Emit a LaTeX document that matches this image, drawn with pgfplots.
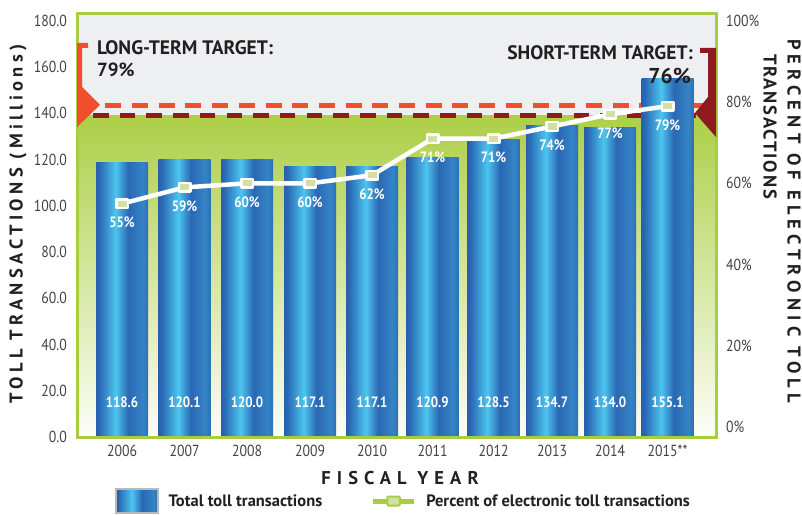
\documentclass[border=0pt]{standalone}
\usepackage{fontspec}
\setmainfont{PT Sans}
\newfontfamily\condfont[FakeStretch=0.86]{PT Sans}
\usepackage{pgfplots}
\pgfplotsset{compat=1.18}
\definecolor{dblue}{HTML}{1A3282}
\definecolor{mblue}{HTML}{2A68B4}
\definecolor{lblue}{HTML}{4DC5EF}
\definecolor{gframe}{HTML}{A8CD3E}
\definecolor{gtop}{HTML}{ADCF47}
\definecolor{bggray}{HTML}{EEEFF1}
\definecolor{orng}{HTML}{F04E2F}
\definecolor{dred}{HTML}{8C1A1E}
\definecolor{mfill}{HTML}{D2DFA6}
\definecolor{txt}{HTML}{231F20}
\pgfdeclarehorizontalshading{barshade}{100bp}{color(0bp)=(dblue); color(10bp)=(dblue!85!mblue); color(28bp)=(mblue); color(44bp)=(lblue); color(56bp)=(mblue); color(70bp)=(mblue!70!lblue); color(86bp)=(dblue!75!mblue); color(100bp)=(dblue)}
\newcommand\tickfont{\condfont\fontsize{16}{16}\selectfont}
\pgfplotsset{onebar/.style={ybar, bar width=52, bar shift=0pt, shade, shading=barshade, draw=none, forget plot}}
\begin{document}
\begin{tikzpicture}[x=1pt,y=1pt]
\useasboundingbox (0,0) rectangle (802,514);
\begin{axis}[
  at={(77pt,77pt)}, anchor=south west,
  width=639pt, height=423pt, scale only axis,
  xmin=77, xmax=716, ymin=0, ymax=183,
  clip=false,
  axis line style={draw=none},
  major tick length=0pt, tick style={draw=none},
  axis background/.style={fill=bggray},
  xtick={122,184.5,247,310,372,432.5,493.5,552,610,667.5},
  xticklabels={2006,2007,2008,2009,2010,2011,2012,2013,2014,2015**},
  xticklabel style={font=\tickfont, text=txt!85, inner sep=0pt, anchor=center, yshift=-14pt},
  ytick={0,20,...,180},
  yticklabels={0.0,20.0,40.0,60.0,80.0,100.0,120.0,140.0,160.0,180.0},
  yticklabel style={font=\tickfont, text=txt!85, inner sep=0pt, anchor=east, xshift=-10pt},
]
\fill[top color=gtop, bottom color=gtop!4!white] (axis cs:77,0) rectangle (axis cs:716,139);
\draw[dred, line width=5pt, dash pattern=on 15.5pt off 11.2pt] (axis cs:93,139) -- (axis cs:716,139);
\draw[orng, line width=5pt, dash pattern=on 16pt off 10.7pt] (axis cs:105.3,143.4) -- (axis cs:716,143.4);
\addplot[onebar] coordinates {(122,118.6)};
\addplot[onebar] coordinates {(184.5,120.1)};
\addplot[onebar] coordinates {(247,120.0)};
\addplot[onebar] coordinates {(310,117.1)};
\addplot[onebar] coordinates {(372,117.1)};
\addplot[onebar] coordinates {(432.5,120.9)};
\addplot[onebar] coordinates {(493.5,128.5)};
\addplot[onebar] coordinates {(552,134.7)};
\addplot[onebar] coordinates {(610,134.0)};
\addplot[onebar] coordinates {(667.5,155.1)};
\addplot[draw=none, forget plot, nodes near coords, point meta=explicit symbolic,
  every node near coord/.append style={anchor=center, inner sep=0pt, text=white, font=\condfont\bfseries\fontsize{15}{15}\selectfont}]
  coordinates {(122,15.1)[118.6] (184.5,15.1)[120.1] (247,15.1)[120.0] (310,15.1)[117.1] (372,15.1)[117.1] (432.5,15.1)[120.9] (493.5,15.1)[128.5] (552,15.1)[134.7] (610,15.1)[134.0] (667.5,15.1)[155.1]};
\draw[gframe, line width=3pt] (rel axis cs:0,0) rectangle (rel axis cs:1,1);
\end{axis}
\begin{axis}[
  at={(77pt,77pt)}, anchor=south west,
  width=639pt, height=423pt, scale only axis,
  xmin=77, xmax=716, ymin=-2.46, ymax=101.7,
  clip=false,
  hide x axis, axis y line*=right,
  axis line style={draw=none},
  major tick length=0pt, tick style={draw=none},
  ytick={0,20,...,100},
  yticklabels={0\%,20\%,40\%,60\%,80\%,100\%},
  yticklabel style={font=\tickfont, text=txt!85, inner sep=0pt, anchor=west, xshift=10pt},
  legend columns=2,
  legend style={at={(0.0595,-0.1513)}, anchor=west, draw=none, fill=none, inner sep=0pt,
    font=\bfseries\fontsize{16.5}{16.5}\selectfont, text=txt,
    nodes={inner sep=0pt},
    /tikz/every odd column/.append style={column sep=10pt},
    /tikz/every even column/.append style={column sep=48pt}},
]
\addplot[white, line width=4.5pt, line join=round, mark=square*, mark size=5.75pt,
  mark options={fill=mfill, draw=white, line width=2.5pt, rounded corners=1.2pt, yscale=0.75, solid},
  nodes near coords, point meta=explicit symbolic,
  every node near coord/.append style={anchor=center, inner sep=0pt, yshift=-19pt, text=white, font=\condfont\bfseries\fontsize{15}{15}\selectfont},
  forget plot]
  coordinates {(122,55)[55\%] (184.5,59)[59\%] (247,60)[60\%] (310,60)[60\%] (372,62)[62\%] (432.5,71)[71\%] (493.5,71)[71\%] (552,74)[74\%] (610,77)[77\%] (667.5,79)[79\%]};
\addlegendimage{legend image code/.code={\shadedraw[shading=barshade, draw=gray!55, line width=1.5pt] (0pt,-12pt) rectangle (42pt,12pt);}}
\addlegendentry{Total toll transactions}
\addlegendimage{legend image code/.code={\draw[gframe, line width=5pt] (0pt,0pt) -- (41pt,0pt); \draw[gframe, fill=mfill, line width=2pt, rounded corners=1pt] (14.5pt,-4.5pt) rectangle (27pt,4.5pt);}}
\addlegendentry{Percent of electronic toll transactions}
\end{axis}
\begin{scope}[y=-1pt, yshift=514pt]
\fill[orng] (77,43) -- (88,43) -- (88,48) -- (82,48) -- (82,87) -- (100,105) -- (77,127) -- cycle;
\fill[dred] (700,48) -- (716,48) -- (716,137) -- (695,113) -- (708,97) -- (708,53) -- (700,53) -- cycle;
\node[anchor=west, inner sep=0pt, text=txt, font=\bfseries\fontsize{19.5}{19.5}\selectfont] at (97,48) {LONG-TERM TARGET:};
\node[anchor=west, inner sep=0pt, text=txt, font=\bfseries\fontsize{19}{19}\selectfont] at (97,70) {79\%};
\node[anchor=east, inner sep=0pt, text=txt, font=\bfseries\fontsize{19.5}{19.5}\selectfont] at (693,53) {SHORT-TERM TARGET:};
\node[anchor=east, inner sep=0pt, text=txt, font=\bfseries\fontsize{21.5}{21.5}\selectfont] at (691,76) {76\%};
\node[rotate=90, inner sep=0pt, text=txt, font=\bfseries\fontsize{18.5}{18.5}\selectfont\addfontfeatures{LetterSpace=23.5}] at (18,224) {TOLL TRANSACTIONS (Millions)};
\node[inner sep=0pt, text=txt, font=\bfseries\fontsize{18.5}{18.5}\selectfont\addfontfeatures{LetterSpace=33}] at (400,478) {FISCAL YEAR};
\node[rotate=-90, inner sep=0pt, text=txt, font=\bfseries\fontsize{18.5}{18.5}\selectfont\addfontfeatures{LetterSpace=28}] at (794,221) {PERCENT OF ELECTRONIC TOLL};
\node[rotate=-90, inner sep=0pt, text=txt, font=\bfseries\fontsize{18.5}{18.5}\selectfont\addfontfeatures{LetterSpace=10}] at (770,126.5) {TRANSACTIONS};
\end{scope}
\end{tikzpicture}
\end{document}
